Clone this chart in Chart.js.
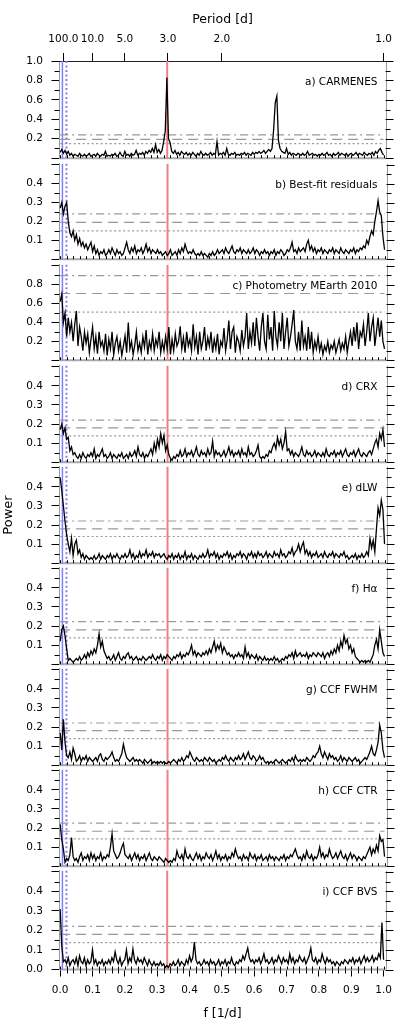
<!DOCTYPE html>
<html><head><meta charset="utf-8">
<script src="https://cdn.jsdelivr.net/npm/chart.js@4.4.0/dist/chart.umd.min.js"></script>
<style>
html,body{margin:0;padding:0;background:#fff;}
#wrap{position:relative;width:399px;height:1032px;overflow:hidden;background:#fff;}
#wrap canvas{position:absolute;left:0;}
</style></head><body><div id="wrap"></div>
<script>
// ---------- data ----------
const FREQ = [
0,0.005,0.01,0.015,0.02,0.025,0.03,0.035,0.04,0.045,
0.05,0.055,0.06,0.065,0.07,0.075,0.08,0.085,0.09,0.095,
0.1,0.105,0.11,0.115,0.12,0.125,0.13,0.135,0.14,0.145,
0.15,0.155,0.16,0.165,0.17,0.175,0.18,0.185,0.19,0.195,
0.2,0.205,0.21,0.215,0.22,0.225,0.23,0.235,0.24,0.245,
0.25,0.255,0.26,0.265,0.27,0.275,0.28,0.285,0.29,0.295,
0.3,0.305,0.31,0.315,0.32,0.325,0.33,0.335,0.34,0.345,
0.35,0.355,0.36,0.365,0.37,0.375,0.38,0.385,0.39,0.395,
0.4,0.405,0.41,0.415,0.42,0.425,0.43,0.435,0.44,0.445,
0.45,0.455,0.46,0.465,0.47,0.475,0.48,0.485,0.49,0.495,
0.5,0.505,0.51,0.515,0.52,0.525,0.53,0.535,0.54,0.545,
0.55,0.555,0.56,0.565,0.57,0.575,0.58,0.585,0.59,0.595,
0.6,0.605,0.61,0.615,0.62,0.625,0.63,0.635,0.64,0.645,
0.65,0.655,0.66,0.665,0.67,0.675,0.68,0.685,0.69,0.695,
0.7,0.705,0.71,0.715,0.72,0.725,0.73,0.735,0.74,0.745,
0.75,0.755,0.76,0.765,0.77,0.775,0.78,0.785,0.79,0.795,
0.8,0.805,0.81,0.815,0.82,0.825,0.83,0.835,0.84,0.845,
0.85,0.855,0.86,0.865,0.87,0.875,0.88,0.885,0.89,0.895,
0.9,0.905,0.91,0.915,0.92,0.925,0.93,0.935,0.94,0.945,
0.95,0.955,0.96,0.965,0.97,0.975,0.98,0.985,0.99,0.995,
1.0];

const P_CARMENES = [
0.06,0.09,0.05,0.08,0.04,0.07,0.03,0.05,0.02,0.04,
0.03,0.02,0.05,0.03,0.02,0.04,0.02,0.03,0.05,0.02,
0.03,0.04,0.02,0.05,0.03,0.02,0.04,0.03,0.07,0.02,
0.03,0.02,0.04,0.03,0.05,0.02,0.03,0.06,0.03,0.02,
0.07,0.03,0.04,0.02,0.05,0.03,0.04,0.08,0.03,0.05,
0.04,0.06,0.03,0.07,0.05,0.08,0.06,0.10,0.06,0.14,
0.06,0.09,0.05,0.08,0.17,0.28,0.83,0.20,0.16,0.07,
0.05,0.08,0.04,0.06,0.03,0.07,0.05,0.04,0.06,0.03,
0.05,0.03,0.06,0.04,0.02,0.05,0.03,0.07,0.04,0.03,
0.05,0.03,0.04,0.06,0.03,0.05,0.04,0.17,0.03,0.05,
0.04,0.06,0.03,0.10,0.04,0.03,0.05,0.04,0.06,0.03,
0.04,0.03,0.05,0.04,0.06,0.03,0.05,0.04,0.03,0.06,
0.04,0.06,0.05,0.07,0.05,0.06,0.08,0.05,0.07,0.09,
0.07,0.10,0.29,0.57,0.64,0.18,0.10,0.07,0.06,0.05,
0.10,0.04,0.06,0.03,0.05,0.04,0.03,0.05,0.04,0.03,
0.05,0.03,0.04,0.07,0.03,0.04,0.05,0.03,0.04,0.02,
0.04,0.03,0.05,0.03,0.04,0.06,0.03,0.04,0.02,0.05,
0.03,0.04,0.06,0.03,0.05,0.04,0.03,0.05,0.02,0.04,
0.05,0.03,0.04,0.06,0.03,0.05,0.04,0.03,0.06,0.04,
0.03,0.05,0.04,0.06,0.03,0.07,0.05,0.08,0.10,0.06,
0.03];

const P_RESIDUALS = [
0.27,0.30,0.24,0.28,0.30,0.20,0.14,0.12,0.15,0.10,
0.13,0.08,0.11,0.07,0.09,0.06,0.08,0.05,0.07,0.09,
0.04,0.07,0.03,0.05,0.02,0.04,0.03,0.05,0.02,0.03,
0.05,0.03,0.06,0.04,0.02,0.05,0.03,0.04,0.02,0.03,
0.06,0.09,0.05,0.03,0.06,0.04,0.07,0.03,0.05,0.04,
0.06,0.03,0.05,0.08,0.04,0.06,0.03,0.05,0.04,0.03,
0.05,0.03,0.04,0.02,0.03,0.04,0.02,0.03,0.05,0.02,
0.03,0.04,0.02,0.05,0.03,0.06,0.04,0.08,0.05,0.03,
0.04,0.03,0.05,0.03,0.02,0.03,0.02,0.04,0.02,0.03,
0.02,0.01,0.03,0.02,0.04,0.02,0.03,0.05,0.03,0.04,
0.05,0.03,0.06,0.04,0.03,0.05,0.07,0.04,0.03,0.05,
0.04,0.06,0.03,0.05,0.04,0.03,0.05,0.03,0.04,0.06,
0.03,0.05,0.04,0.02,0.04,0.03,0.05,0.03,0.04,0.02,
0.04,0.03,0.05,0.02,0.04,0.03,0.05,0.04,0.02,0.03,
0.05,0.04,0.06,0.09,0.04,0.05,0.03,0.06,0.04,0.05,
0.06,0.04,0.08,0.10,0.05,0.07,0.04,0.06,0.03,0.05,
0.04,0.06,0.03,0.05,0.04,0.03,0.05,0.04,0.06,0.03,
0.05,0.04,0.03,0.06,0.04,0.03,0.05,0.04,0.03,0.05,
0.04,0.06,0.03,0.05,0.04,0.06,0.05,0.07,0.06,0.10,
0.08,0.12,0.15,0.13,0.20,0.25,0.31,0.25,0.23,0.12,
0.05];

const P_MEARTH = [
0.62,0.70,0.40,0.50,0.25,0.45,0.30,0.40,0.20,0.38,
0.52,0.15,0.35,0.25,0.10,0.30,0.18,0.28,0.08,0.22,
0.35,0.12,0.25,0.07,0.30,0.15,0.20,0.10,0.28,0.05,
0.22,0.12,0.30,0.06,0.18,0.25,0.10,0.20,0.05,0.15,
0.26,0.08,0.40,0.12,0.20,0.06,0.16,0.30,0.10,0.18,
0.08,0.25,0.14,0.32,0.06,0.20,0.12,0.28,0.10,0.22,
0.15,0.30,0.08,0.20,0.10,0.25,0.12,0.35,0.06,0.22,
0.10,0.28,0.15,0.20,0.36,0.12,0.24,0.08,0.30,0.15,
0.22,0.10,0.38,0.14,0.25,0.06,0.30,0.12,0.20,0.35,
0.10,0.24,0.15,0.30,0.08,0.22,0.12,0.28,0.06,0.20,
0.15,0.34,0.10,0.22,0.42,0.12,0.30,0.35,0.08,0.25,
0.20,0.10,0.32,0.15,0.25,0.50,0.12,0.30,0.18,0.40,
0.15,0.45,0.25,0.10,0.35,0.50,0.20,0.12,0.48,0.22,
0.35,0.10,0.52,0.25,0.15,0.40,0.20,0.50,0.12,0.30,
0.45,0.15,0.25,0.38,0.53,0.20,0.12,0.30,0.10,0.42,
0.15,0.25,0.10,0.35,0.12,0.30,0.08,0.20,0.12,0.25,
0.10,0.18,0.06,0.15,0.10,0.20,0.08,0.16,0.12,0.20,
0.08,0.15,0.22,0.10,0.18,0.12,0.25,0.08,0.20,0.30,
0.15,0.35,0.20,0.40,0.12,0.30,0.25,0.38,0.15,0.30,
0.50,0.20,0.35,0.45,0.15,0.30,0.45,0.25,0.42,0.20,
0.12];

const P_CRX = [
0.17,0.20,0.15,0.18,0.12,0.13,0.06,0.08,0.04,0.05,
0.03,0.02,0.04,0.02,0.05,0.03,0.02,0.04,0.03,0.05,
0.03,0.07,0.02,0.04,0.03,0.05,0.07,0.03,0.04,0.02,
0.03,0.05,0.02,0.04,0.03,0.02,0.04,0.03,0.05,0.02,
0.03,0.04,0.02,0.05,0.03,0.04,0.06,0.03,0.08,0.04,
0.03,0.05,0.02,0.04,0.03,0.05,0.07,0.04,0.10,0.06,
0.12,0.08,0.15,0.10,0.14,0.06,0.09,0.04,0.02,0.01,
0.03,0.02,0.04,0.03,0.06,0.03,0.04,0.07,0.03,0.05,
0.04,0.06,0.03,0.05,0.08,0.04,0.03,0.06,0.04,0.05,
0.03,0.07,0.04,0.05,0.11,0.03,0.06,0.04,0.05,0.03,
0.04,0.06,0.03,0.05,0.08,0.04,0.06,0.03,0.05,0.04,
0.06,0.03,0.07,0.04,0.05,0.03,0.08,0.04,0.05,0.03,
0.04,0.06,0.09,0.03,0.02,0.03,0.02,0.04,0.03,0.06,
0.05,0.08,0.10,0.07,0.13,0.09,0.12,0.07,0.10,0.16,
0.06,0.07,0.04,0.06,0.03,0.05,0.04,0.03,0.05,0.08,
0.04,0.03,0.06,0.04,0.05,0.03,0.04,0.06,0.03,0.05,
0.04,0.03,0.05,0.03,0.07,0.04,0.03,0.05,0.04,0.06,
0.03,0.05,0.04,0.06,0.03,0.05,0.07,0.04,0.03,0.05,
0.04,0.06,0.03,0.05,0.07,0.04,0.03,0.05,0.04,0.03,
0.05,0.06,0.04,0.07,0.10,0.12,0.08,0.15,0.12,0.17,
0.08];

const P_DLW = [
0.45,0.38,0.30,0.22,0.15,0.10,0.06,0.13,0.04,0.10,
0.12,0.05,0.07,0.03,0.05,0.02,0.04,0.03,0.02,0.03,
0.02,0.04,0.02,0.03,0.05,0.02,0.04,0.03,0.02,0.04,
0.03,0.05,0.02,0.04,0.03,0.05,0.03,0.02,0.04,0.03,
0.05,0.03,0.04,0.07,0.03,0.05,0.02,0.04,0.03,0.06,
0.03,0.05,0.04,0.07,0.03,0.05,0.04,0.06,0.03,0.05,
0.04,0.05,0.03,0.04,0.05,0.03,0.02,0.04,0.03,0.05,
0.02,0.04,0.03,0.05,0.02,0.04,0.03,0.06,0.02,0.04,
0.03,0.05,0.02,0.04,0.03,0.02,0.04,0.03,0.05,0.03,
0.04,0.07,0.03,0.05,0.04,0.06,0.03,0.05,0.02,0.04,
0.03,0.05,0.04,0.06,0.03,0.05,0.02,0.04,0.03,0.05,
0.04,0.06,0.03,0.05,0.04,0.02,0.05,0.04,0.06,0.03,
0.05,0.03,0.06,0.04,0.05,0.03,0.04,0.06,0.03,0.05,
0.04,0.03,0.06,0.04,0.05,0.03,0.07,0.04,0.05,0.03,
0.04,0.06,0.05,0.08,0.04,0.06,0.07,0.10,0.06,0.09,
0.11,0.05,0.07,0.04,0.06,0.03,0.05,0.04,0.06,0.03,
0.04,0.05,0.03,0.06,0.04,0.03,0.05,0.04,0.06,0.03,
0.05,0.04,0.03,0.05,0.04,0.06,0.03,0.04,0.02,0.03,
0.04,0.03,0.05,0.02,0.04,0.03,0.05,0.03,0.04,0.06,
0.04,0.13,0.08,0.12,0.06,0.18,0.29,0.25,0.33,0.28,
0.10];

const P_HALPHA = [
0.12,0.18,0.20,0.15,0.08,0.02,0.03,0.02,0.01,0.02,
0.03,0.02,0.04,0.02,0.03,0.05,0.03,0.06,0.04,0.07,
0.05,0.08,0.06,0.10,0.16,0.09,0.12,0.07,0.05,0.03,
0.04,0.02,0.03,0.05,0.02,0.04,0.06,0.03,0.02,0.04,
0.03,0.05,0.06,0.03,0.04,0.02,0.03,0.04,0.02,0.03,
0.02,0.04,0.03,0.02,0.03,0.04,0.03,0.05,0.03,0.02,
0.04,0.03,0.05,0.02,0.04,0.03,0.05,0.04,0.03,0.02,
0.04,0.03,0.05,0.04,0.06,0.03,0.05,0.04,0.06,0.05,
0.07,0.10,0.05,0.07,0.04,0.06,0.05,0.04,0.06,0.05,
0.07,0.05,0.08,0.06,0.09,0.12,0.07,0.10,0.08,0.11,
0.06,0.09,0.07,0.05,0.06,0.04,0.05,0.03,0.05,0.04,
0.06,0.04,0.05,0.03,0.09,0.04,0.06,0.03,0.05,0.04,
0.03,0.05,0.02,0.04,0.03,0.02,0.04,0.02,0.03,0.02,
0.03,0.02,0.04,0.02,0.03,0.01,0.02,0.03,0.02,0.04,
0.03,0.05,0.04,0.06,0.03,0.07,0.04,0.05,0.06,0.04,
0.05,0.04,0.06,0.03,0.05,0.04,0.06,0.05,0.04,0.06,
0.05,0.04,0.06,0.03,0.05,0.06,0.04,0.07,0.05,0.08,
0.06,0.10,0.07,0.12,0.09,0.15,0.11,0.13,0.08,0.10,
0.06,0.08,0.04,0.03,0.02,0.01,0.02,0.01,0.02,0.01,
0.02,0.01,0.03,0.05,0.10,0.13,0.08,0.18,0.12,0.06,
0.04];

const P_FWHM = [
0.17,0.08,0.24,0.12,0.05,0.04,0.07,0.03,0.09,0.06,
0.02,0.03,0.05,0.02,0.04,0.03,0.05,0.02,0.04,0.03,
0.02,0.03,0.04,0.02,0.05,0.06,0.03,0.02,0.04,0.03,
0.04,0.05,0.07,0.04,0.02,0.03,0.02,0.04,0.06,0.11,
0.07,0.04,0.03,0.02,0.03,0.04,0.02,0.03,0.02,0.03,
0.02,0.01,0.03,0.02,0.01,0.02,0.03,0.01,0.02,0.01,
0.02,0.01,0.02,0.01,0.02,0.01,0.01,0.02,0.01,0.02,
0.03,0.02,0.01,0.03,0.02,0.04,0.02,0.03,0.05,0.04,
0.07,0.05,0.03,0.02,0.04,0.03,0.02,0.03,0.02,0.04,
0.03,0.02,0.04,0.03,0.02,0.03,0.01,0.02,0.03,0.02,
0.04,0.03,0.05,0.03,0.02,0.04,0.03,0.02,0.04,0.03,
0.05,0.03,0.04,0.06,0.03,0.05,0.07,0.04,0.03,0.05,
0.04,0.02,0.03,0.05,0.03,0.04,0.02,0.01,0.02,0.01,
0.02,0.01,0.02,0.03,0.02,0.01,0.02,0.03,0.02,0.01,
0.02,0.03,0.02,0.04,0.02,0.05,0.03,0.02,0.03,0.02,
0.03,0.02,0.04,0.03,0.02,0.03,0.05,0.04,0.06,0.07,
0.10,0.06,0.04,0.07,0.05,0.03,0.06,0.04,0.05,0.03,
0.04,0.02,0.03,0.05,0.02,0.04,0.03,0.02,0.04,0.03,
0.02,0.03,0.04,0.02,0.03,0.01,0.02,0.03,0.04,0.03,
0.05,0.07,0.10,0.06,0.05,0.08,0.12,0.21,0.17,0.08,
0.04];

const P_CTR = [
0.22,0.14,0.09,0.02,0.04,0.03,0.06,0.15,0.05,0.03,
0.04,0.02,0.05,0.07,0.03,0.05,0.04,0.06,0.03,0.07,
0.04,0.06,0.03,0.05,0.04,0.07,0.03,0.05,0.04,0.06,
0.05,0.10,0.17,0.08,0.06,0.04,0.05,0.07,0.10,0.12,
0.06,0.05,0.04,0.06,0.03,0.05,0.07,0.04,0.06,0.03,
0.05,0.04,0.06,0.03,0.05,0.07,0.04,0.03,0.05,0.04,
0.03,0.05,0.04,0.03,0.02,0.04,0.03,0.02,0.03,0.02,
0.04,0.03,0.08,0.05,0.04,0.06,0.03,0.09,0.05,0.04,
0.06,0.04,0.03,0.05,0.07,0.04,0.06,0.03,0.05,0.04,
0.07,0.05,0.04,0.06,0.03,0.05,0.08,0.04,0.06,0.03,
0.05,0.04,0.06,0.03,0.05,0.04,0.07,0.05,0.09,0.06,
0.04,0.05,0.03,0.06,0.04,0.05,0.03,0.07,0.05,0.04,
0.06,0.03,0.05,0.04,0.06,0.03,0.04,0.05,0.03,0.06,
0.04,0.05,0.03,0.05,0.04,0.03,0.05,0.04,0.06,0.03,
0.05,0.04,0.06,0.05,0.07,0.09,0.06,0.04,0.05,0.03,
0.06,0.04,0.08,0.05,0.04,0.06,0.03,0.05,0.04,0.06,
0.10,0.05,0.07,0.04,0.06,0.05,0.09,0.06,0.04,0.05,
0.07,0.04,0.06,0.08,0.05,0.04,0.06,0.03,0.05,0.07,
0.04,0.06,0.05,0.03,0.05,0.04,0.03,0.05,0.04,0.06,
0.08,0.10,0.06,0.09,0.07,0.11,0.08,0.16,0.13,0.14,
0.05];

const P_BVS = [
0.31,0.12,0.04,0.05,0.03,0.06,0.02,0.04,0.05,0.03,
0.06,0.02,0.07,0.04,0.03,0.06,0.02,0.05,0.03,0.04,
0.10,0.03,0.05,0.02,0.04,0.03,0.05,0.02,0.04,0.03,
0.05,0.03,0.06,0.04,0.09,0.05,0.03,0.06,0.02,0.04,
0.05,0.10,0.03,0.06,0.04,0.105,0.05,0.03,0.06,0.04,
0.05,0.03,0.06,0.04,0.02,0.05,0.03,0.02,0.04,0.02,
0.03,0.02,0.04,0.02,0.03,0.01,0.02,0.01,0.03,0.02,
0.04,0.02,0.03,0.05,0.02,0.04,0.03,0.02,0.05,0.03,
0.07,0.04,0.06,0.14,0.05,0.03,0.04,0.02,0.03,0.05,
0.03,0.04,0.02,0.05,0.03,0.04,0.02,0.03,0.05,0.02,
0.04,0.03,0.05,0.02,0.04,0.03,0.06,0.03,0.02,0.04,
0.03,0.05,0.04,0.07,0.05,0.08,0.11,0.06,0.04,0.05,
0.03,0.05,0.04,0.06,0.03,0.05,0.08,0.04,0.05,0.03,
0.04,0.06,0.03,0.05,0.04,0.07,0.05,0.03,0.06,0.04,
0.05,0.03,0.08,0.04,0.06,0.03,0.05,0.04,0.07,0.05,
0.04,0.06,0.03,0.05,0.07,0.11,0.05,0.04,0.06,0.03,
0.05,0.04,0.08,0.05,0.03,0.06,0.04,0.05,0.03,0.04,
0.02,0.04,0.03,0.02,0.04,0.03,0.05,0.04,0.03,0.05,
0.04,0.06,0.03,0.05,0.04,0.06,0.03,0.05,0.07,0.04,
0.06,0.04,0.05,0.07,0.04,0.06,0.05,0.08,0.06,0.24,
0.05];

const PANEL_LABELS = ['a) CARMENES','b) Best-fit residuals','c) Photometry MEarth 2010','d) CRX','e) dLW','f) H\u03B1','g) CCF FWHM','h) CCF CTR','i) CCF BVS'];
// false-alarm levels per panel: [0.1 %, 1 %, 10 %]
const FAP_01 = [0.240,0.240,0.896,0.220,0.221,0.223,0.221,0.226,0.221];
const FAP_1  = [0.193,0.195,0.706,0.180,0.180,0.180,0.181,0.183,0.180];
const FAP_10 = [0.150,0.150,0.510,0.138,0.140,0.138,0.139,0.143,0.137];

// marked frequencies [1/d]
const RED_F = 0.331;
const BLUE_F = 0.007;
const BLUE_DOT_F = 0.0195;

// ticks
const PERIOD_TICKS = [100,10,5,3,2,1];
const PERIOD_LABELS = ['100.0','10.0','5.0','3.0','2.0','1.0'];
const X_TICKS = [0,0.1,0.2,0.3,0.4,0.5,0.6,0.7,0.8,0.9,1.0];
const X_LABELS = ['0.0','0.1','0.2','0.3','0.4','0.5','0.6','0.7','0.8','0.9','1.0'];
const X_MINOR_TICKS = [0,0.02,0.04,0.06,0.08,0.1,0.12,0.14,0.16,0.18,0.2,0.22,0.24,0.26,0.28,0.3,0.32,0.34,0.36,0.38,0.4,0.42,0.44,0.46,0.48,0.5,0.52,0.54,0.56,0.58,0.6,0.62,0.64,0.66,0.68,0.7,0.72,0.74,0.76,0.78,0.8,0.82,0.84,0.86,0.88,0.9,0.92,0.94,0.96,0.98,1.0];
const Y_MAJOR_BIG = [0,0.2,0.4,0.6,0.8,1.0];
const Y_MINOR_BIG = [0.1,0.3,0.5,0.7,0.9];
const Y_MAJOR_SMALL = [0,0.1,0.2,0.3,0.4,0.5];
const Y_MINOR_SMALL = [0.05,0.15,0.25,0.35,0.45];
const Y_LABELS_A = ['','0.2','0.4','0.6','0.8','1.0'];
const Y_LABELS_C = ['','0.2','0.4','0.6','0.8',''];
const Y_LABELS_SMALL = ['','0.1','0.2','0.3','0.4',''];
const Y_LABELS_LAST = ['0.0','0.1','0.2','0.3','0.4',''];

// ---------- layout ----------
const SERIES = [P_CARMENES,P_RESIDUALS,P_MEARTH,P_CRX,P_DLW,P_HALPHA,P_FWHM,P_CTR,P_BVS];
const Y_MAX = [1.0,0.505,1.01,0.505,0.505,0.505,0.505,0.505,0.505];
const PANEL_EDGES = [61,161,262,363,464.3,565.4,666.5,767.6,868.7,969.5];
const X_MIN = -0.002, X_MAX = 1.006;
const FONT = "'DejaVu Sans', sans-serif";

Chart.defaults.font.family = FONT;
Chart.defaults.color = '#000';

function makeDecor(k){
  const big = (k === 0 || k === 2);
  const yMajor = big ? Y_MAJOR_BIG : Y_MAJOR_SMALL;
  const yMinor = big ? Y_MINOR_BIG : Y_MINOR_SMALL;
  return {
    id: 'decor' + k,
    beforeDatasetsDraw(chart){
      const {ctx, chartArea: a, scales: {x}} = chart;
      ctx.save();
      ctx.strokeStyle = '#aaa'; ctx.lineWidth = 2;
      ctx.beginPath(); ctx.moveTo(a.left, a.bottom); ctx.lineTo(a.right, a.bottom); ctx.stroke();
      const vl = (f, color, w, dash) => {
        const px = x.getPixelForValue(f);
        ctx.strokeStyle = color; ctx.lineWidth = w; ctx.setLineDash(dash);
        ctx.beginPath(); ctx.moveTo(px, a.top); ctx.lineTo(px, a.bottom); ctx.stroke();
      };
      vl(BLUE_F, '#7f7fff', 1.5, []);
      vl(BLUE_DOT_F, '#7f7fff', 2, [2, 2.5]);
      vl(RED_F, '#f08080', 2, []);
      ctx.restore();
    },
    afterDraw(chart){
      const {ctx, chartArea: a, scales: {x, y}} = chart;
      ctx.save();
      // right frame
      ctx.strokeStyle = '#999'; ctx.lineWidth = 1;
      ctx.beginPath(); ctx.moveTo(Math.round(a.right)+0.5, a.top); ctx.lineTo(Math.round(a.right)+0.5, a.bottom); ctx.stroke();
      ctx.strokeStyle = '#000'; ctx.lineWidth = 1;
      ctx.beginPath();
      yMinor.forEach(v => {
        const py = Math.round(y.getPixelForValue(v)) + 0.5;
        ctx.moveTo(a.left - 5, py); ctx.lineTo(a.left, py);
        ctx.moveTo(a.right, py); ctx.lineTo(a.right + 5, py);
      });
      yMajor.forEach(v => {
        const py = Math.round(y.getPixelForValue(v)) + 0.5;
        ctx.moveTo(a.right, py); ctx.lineTo(a.right + 8, py);
      });
      X_MINOR_TICKS.forEach(v => {
        const px = Math.round(x.getPixelForValue(v)) + 0.5;
        ctx.moveTo(px, a.bottom); ctx.lineTo(px, a.bottom - 3);
        if (k === 8 && !X_TICKS.includes(v)) { ctx.moveTo(px, a.bottom); ctx.lineTo(px, a.bottom + 4); }
      });
      ctx.stroke();
      ctx.fillStyle = '#000';
      ctx.font = '10.5px ' + FONT;
      ctx.textAlign = 'right'; ctx.textBaseline = 'middle';
      ctx.fillText(PANEL_LABELS[k], 377.5, a.top + 21);
      ctx.restore();
    }
  };
}

const wrap = document.getElementById('wrap');
for (let k = 0; k < 9; k++) {
  const T = PANEL_EDGES[k], B = PANEL_EDGES[k+1];
  const first = k === 0, last = k === 8;
  const cTop = first ? 0 : Math.floor(T) - 12;
  const cBot = last ? 1032 : Math.ceil(B) + 12;
  const H = cBot - cTop;
  const canvas = document.createElement('canvas');
  canvas.width = 399; canvas.height = H;
  canvas.style.top = cTop + 'px';
  canvas.style.width = '399px'; canvas.style.height = H + 'px';
  wrap.appendChild(canvas);

  const big = (k === 0 || k === 2);
  const yMajor = big ? Y_MAJOR_BIG : Y_MAJOR_SMALL;
  const yLabels = k === 0 ? Y_LABELS_A : (k === 2 ? Y_LABELS_C : (last ? Y_LABELS_LAST : Y_LABELS_SMALL));

  const datasets = [{
    data: SERIES[k].map((v, i) => ({x: FREQ[i], y: v})),
    borderColor: '#000', borderWidth: 1.3, pointRadius: 0, tension: 0
  }];
  const fapStyles = [[FAP_01, [8,4,2,4]], [FAP_1, [10,6]], [FAP_10, [2,2.5]]];
  fapStyles.forEach(([arr, dash]) => {
    datasets.push({
      data: [{x: FREQ[0], y: arr[k]}, {x: FREQ[FREQ.length-1], y: arr[k]}],
      borderColor: '#999', borderWidth: 1.2, borderDash: dash, pointRadius: 0
    });
  });

  const xScale = {
    type: 'linear', position: 'bottom', min: X_MIN, max: X_MAX, display: last,
    afterBuildTicks: s => { s.ticks = X_TICKS.map(v => ({value: v})); },
    ticks: { callback: (v, i) => X_LABELS[i], autoSkip: false, maxRotation: 0, minRotation: 0, padding: 7, font: {size: 10.5}, color: '#000' },
    grid: { drawOnChartArea: false, drawTicks: true, tickLength: 7, color: '#000' },
    border: { display: false },
    title: { display: true, text: 'f [1/d]', font: {size: 12.5}, color: '#000', padding: {top: 0, bottom: 11} }
  };
  if (last) xScale.afterFit = s => { s.height = 1032 - B; };

  const scales = {
    x: xScale,
    y: {
      type: 'linear', position: 'left', min: 0, max: Y_MAX[k],
      afterFit: s => { s.width = 59.5; },
      afterBuildTicks: s => { s.ticks = yMajor.map(v => ({value: v})); },
      ticks: { callback: (v, i) => yLabels[i], autoSkip: false, padding: 8.5, font: {size: 10.5}, color: '#000' },
      grid: { drawOnChartArea: false, drawTicks: true, tickLength: 8, color: '#000' },
      border: { display: true, color: '#999', width: 1 },
      title: { display: k === 4, text: 'Power', font: {size: 13}, color: '#000', padding: {top: 1, bottom: 0} }
    }
  };
  if (first) {
    scales.x2 = {
      type: 'linear', axis: 'x', position: 'top', min: X_MIN, max: X_MAX,
      afterFit: s => { s.height = T; },
      afterBuildTicks: s => { s.ticks = PERIOD_TICKS.map(p => ({value: 1 / p})); },
      ticks: { callback: (v, i) => PERIOD_LABELS[i], autoSkip: false, maxRotation: 0, minRotation: 0, padding: 7, font: {size: 10.5}, color: '#000' },
      grid: { drawOnChartArea: false, drawTicks: true, tickLength: 8, color: '#000' },
      border: { display: true, color: '#222', width: 1 },
      title: { display: true, text: 'Period [d]', font: {size: 12.5}, color: '#000', padding: {top: 12, bottom: 0} }
    };
  }

  new Chart(canvas, {
    type: 'line',
    data: { datasets },
    options: {
      responsive: false, maintainAspectRatio: false, animation: false, devicePixelRatio: 1,
      parsing: false, normalized: true,
      layout: { padding: { left: 0, right: 12.5, top: first ? 0 : T - cTop, bottom: last ? 0 : cBot - B } },
      plugins: { legend: { display: false }, tooltip: { enabled: false } },
      scales
    },
    plugins: [makeDecor(k)]
  });
}
</script></body></html>
